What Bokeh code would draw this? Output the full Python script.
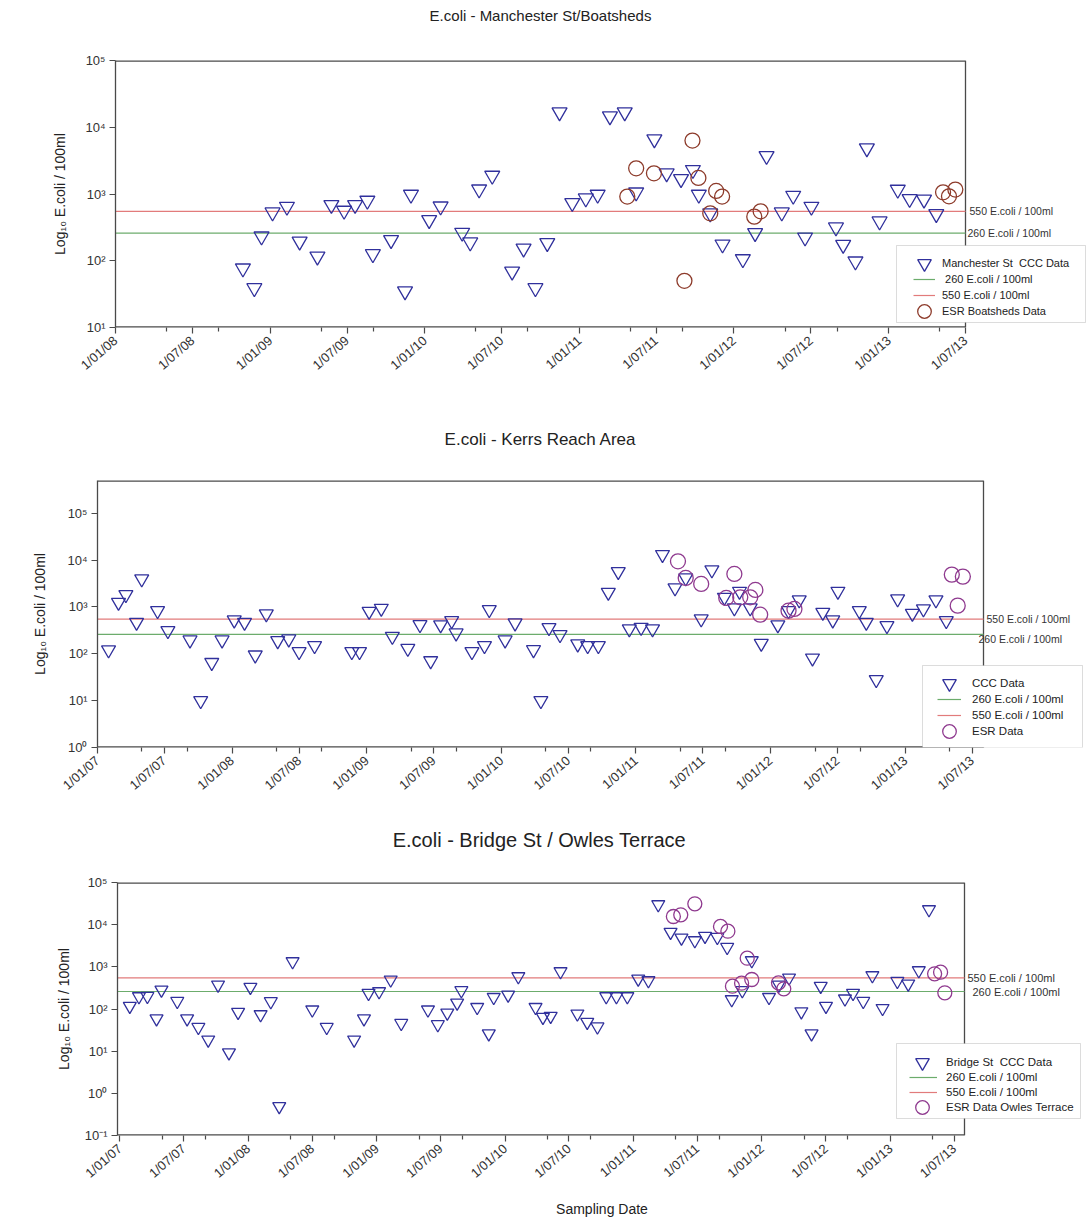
import pandas as pd
from bokeh.plotting import figure
from bokeh.layouts import column
from bokeh.models import FixedTicker, Label, Legend, LegendItem, Range1d, BoxAnnotation, Title
from bokeh.embed import file_html
from bokeh.resources import INLINE

# ---------------- data ----------------
p1_ccc_dates = ["2008-10-28", "2008-11-24", "2008-12-11", "2009-01-06", "2009-02-09", "2009-03-11",
                "2009-04-22", "2009-05-25", "2009-06-24", "2009-07-20", "2009-08-18", "2009-08-31",
                "2009-10-13", "2009-11-15", "2009-11-29", "2010-01-11", "2010-02-07", "2010-03-30",
                "2010-04-18", "2010-05-09", "2010-06-09", "2010-07-26", "2010-08-22", "2010-09-19",
                "2010-10-17", "2010-11-15", "2010-12-15", "2011-01-16", "2011-02-13", "2011-03-14",
                "2011-04-18", "2011-05-15", "2011-06-27", "2011-07-26", "2011-08-29", "2011-09-26",
                "2011-10-10", "2011-11-06", "2011-12-05", "2012-01-22", "2012-02-20", "2012-03-18",
                "2012-04-23", "2012-05-20", "2012-06-17", "2012-07-02", "2012-08-29", "2012-09-15",
                "2012-10-14", "2012-11-10", "2012-12-10", "2013-01-22", "2013-02-19", "2013-03-25",
                "2013-04-23"]
p1_ccc_vals = [77, 39, 232, 532, 647, 195, 116, 687, 564, 687, 797, 126, 205, 35, 980, 409, 654, 264,
               189, 1175, 1888, 69, 153, 39, 185, 16780, 736, 862, 980, 14620, 16780, 1060, 6610, 2043,
               1684, 2298, 980, 514, 176, 106, 261, 3724, 532, 946, 224, 647, 317, 174, 98, 4842, 390,
               1164, 845, 828, 503]
p1_esr_dates = ["2011-04-24", "2011-05-15", "2011-06-26", "2011-09-25", "2011-10-09", "2011-09-06",
                "2011-11-06", "2011-11-20", "2011-12-04", "2012-02-18", "2012-03-04", "2013-05-09",
                "2013-05-23", "2013-06-07"]
p1_esr_vals = [914, 2427, 2043, 6318, 1743, 50, 514, 1112, 914, 458, 550, 1060, 924, 1164]

p2_ccc_dates = ["2007-01-31", "2007-02-27", "2007-03-19", "2007-04-17", "2007-05-01", "2007-06-13",
                "2007-07-11", "2007-09-09", "2007-10-08", "2007-11-07", "2007-12-05", "2008-01-07",
                "2008-02-04", "2008-03-04", "2008-04-03", "2008-05-04", "2008-06-03", "2008-07-01",
                "2008-08-12", "2008-11-21", "2008-12-12", "2009-01-07", "2009-02-09", "2009-03-11",
                "2009-04-22", "2009-05-25", "2009-06-23", "2009-07-20", "2009-08-19", "2009-08-31",
                "2009-10-13", "2009-11-16", "2009-11-29", "2010-01-11", "2010-02-07", "2010-03-29",
                "2010-04-18", "2010-05-10", "2010-06-09", "2010-07-27", "2010-08-23", "2010-09-21",
                "2010-10-18", "2010-11-14", "2010-12-14", "2011-01-15", "2011-02-15", "2011-03-14",
                "2011-04-17", "2011-05-16", "2011-06-27", "2011-07-26", "2011-08-29", "2011-09-25",
                "2011-10-09", "2011-11-07", "2011-12-07", "2012-01-21", "2012-02-19", "2012-03-19",
                "2012-04-24", "2012-05-22", "2012-06-18", "2012-07-02", "2012-08-29", "2012-09-17",
                "2012-10-14", "2012-11-12", "2012-12-11", "2013-01-20", "2013-02-19", "2013-03-25",
                "2013-04-22"]
p2_ccc_vals = [121, 1254, 1832, 469, 3965, 834, 312, 197, 10, 65, 197, 527, 469, 94, 709, 190, 207, 111,
               149, 111, 111, 805, 934, 235, 130, 419, 71, 415, 510, 278, 111, 149, 875, 197, 455, 122,
               10, 361, 256, 162, 149, 149, 2050, 5680, 339, 366, 339, 13110, 2547, 4165, 554, 6175,
               1604, 952, 2154, 952, 167, 415, 834, 1411, 81, 767, 527, 2154, 834, 469, 28, 398, 1483,
               730, 906, 1411, 510]
p2_esr_dates = ["2011-04-25", "2011-05-16", "2011-06-27", "2011-09-25", "2011-09-03", "2011-10-11",
                "2011-11-07", "2011-11-21", "2011-12-04", "2012-02-19", "2012-03-06", "2013-05-07",
                "2013-06-06", "2013-05-23"]
p2_esr_vals = [9420, 4165, 3100, 5070, 1557, 1604, 1604, 2308, 685, 834, 906, 4900, 4440, 1067]

p3_ccc_dates = ["2007-01-29", "2007-02-24", "2007-03-20", "2007-04-15", "2007-04-29", "2007-06-13",
                "2007-07-11", "2007-08-12", "2007-09-09", "2007-10-07", "2007-11-07", "2007-12-03",
                "2008-01-07", "2008-02-05", "2008-03-05", "2008-03-29", "2008-05-06", "2008-07-01",
                "2008-08-11", "2008-10-28", "2008-11-25", "2008-12-08", "2009-01-07", "2009-02-09",
                "2009-03-11", "2009-05-26", "2009-06-23", "2009-07-20", "2009-08-17", "2009-08-29",
                "2009-10-13", "2009-11-15", "2009-11-29", "2010-01-09", "2010-02-07", "2010-03-28",
                "2010-04-18", "2010-05-10", "2010-06-07", "2010-07-25", "2010-08-22", "2010-09-20",
                "2010-10-15", "2010-11-13", "2010-12-14", "2011-01-14", "2011-02-12", "2011-03-12",
                "2011-04-16", "2011-05-17", "2011-06-24", "2011-07-23", "2011-08-27", "2011-09-24",
                "2011-10-07", "2011-11-06", "2011-12-03", "2012-01-21", "2012-02-18", "2012-03-18",
                "2012-04-22", "2012-05-21", "2012-06-16", "2012-07-01", "2012-08-24", "2012-09-16",
                "2012-10-15", "2012-11-10", "2012-12-09", "2013-01-20", "2013-02-20", "2013-03-22",
                "2013-04-20"]
p3_ccc_vals = [117, 198, 201, 59, 285, 153, 59, 37, 18.6, 375, 9.2, 84, 329, 74, 151, 0.49, 1339, 96,
               37, 18.6, 59, 237, 260, 493, 46, 96, 43, 81, 140, 275, 110, 26, 190, 217, 590, 110, 64,
               68, 775, 77, 49, 38, 198, 198, 198, 520, 474, 30090, 6630, 4880, 4210, 5330, 5040, 2920,
               168, 275, 1413, 190, 375, 550, 87, 26, 348, 117, 175, 237, 153, 623, 104, 456, 396, 819,
               22900]
p3_esr_dates = ["2011-04-24", "2011-05-15", "2011-06-24", "2011-09-05", "2011-09-26", "2011-11-20",
                "2011-10-09", "2011-11-04", "2011-12-03", "2012-02-17", "2012-03-03", "2013-05-06",
                "2013-05-23", "2013-06-04"]
p3_esr_vals = [15630, 17140, 31260, 9060, 7000, 1603, 348, 409, 501, 418, 301, 684, 746, 242]

threshold_low = 260
threshold_high = 550

# ---------------- styling ----------------
FONT = "Liberation Sans"
TRI = "#30309c"
RED = "#e27b7b"
GREEN = "#6cac6c"
BROWN = "#8d3b2b"
PURPLE = "#8f3a8f"
AXC = "#4a4a4a"
TXT = "#222222"
FIG_W = 1088
FRAME_R = 1086

W = {' ': .278, '/': .278, '-': .333, '.': .278, 'E': .667, 'c': .5, 'o': .556, 'l': .222, 'i': .222,
     'm': .833, 'M': .833, 'a': .556, 'n': .556, 'h': .556, 'e': .556, 's': .5, 't': .278, 'r': .333,
     'S': .667, 'B': .667, 'd': .556, 'K': .667, 'R': .722, 'A': .667, 'O': .778, 'w': .722,
     'T': .611, 'g': .556}


def tw(s, size):
    return sum(W.get(ch, 0.556) for ch in s) * size


def ms(s):
    return (pd.Timestamp(s) - pd.Timestamp("1970-01-01")).total_seconds() * 1000.0


SUP = str.maketrans("-0123456789", "⁻⁰¹²³⁴⁵⁶⁷⁸⁹")


def date_ticks(x0, x1):
    majors, minors, labels = [], [], {}
    for yr in range(2006, 2015):
        for m in (1, 7):
            t = ms(f"{yr}-{m:02d}-01")
            if x0 - 1 <= t <= x1 + 1:
                majors.append(t)
                labels[t] = f"1/{m:02d}/{yr % 100:02d}"
        for m in (5, 9):
            t = ms(f"{yr}-{m:02d}-01")
            if x0 <= t <= x1:
                minors.append(t)
    return majors, minors, labels


def legend_row(p, renderer, label, x, width, stand, row_y, fl, fb, size):
    gh = 34
    p.add_layout(Legend(items=[LegendItem(label=label, renderers=[renderer])],
                        location=(int(round(x - fl)), int(round(fb - row_y - gh / 2))),
                        glyph_width=int(width), glyph_height=gh, label_height=gh, spacing=0,
                        padding=0, margin=0, label_standoff=int(stand), label_width=20,
                        label_text_font=FONT, label_text_font_size=f"{size}px",
                        label_text_color=TXT, border_line_color=None, background_fill_alpha=0))


def panel(cfg):
    fl, fr, ft, fb, top, h = cfg["frame"]
    fh = fb - ft
    x0, x1 = ms(cfg["xr"][0]), ms(cfg["xr"][1])
    # the frame runs on to the right so that the legend and the side notes are not clipped
    x_end = x0 + (x1 - x0) * (FRAME_R - fl) / (fr - fl)
    ylo, yhi = cfg["yr"]
    p = figure(width=FIG_W, height=h, x_axis_type="datetime", y_axis_type="log",
               x_range=Range1d(x0, x_end), y_range=Range1d(ylo, yhi), title=None,
               output_backend="svg", toolbar_location=None, frame_align=False,
               min_border_left=fl, min_border_right=FIG_W - FRAME_R,
               min_border_top=ft - top, min_border_bottom=h - (ft - top) - fh)
    p.background_fill_color = "white"
    p.border_fill_color = "white"
    p.grid.visible = False
    p.outline_line_color = None

    # title: an empty spacer next to the frame, then the title text
    tsize, spacer, ty = cfg["title"]
    p.add_layout(Title(text=" ", text_font_size="1px", standoff=spacer), "above")
    offset = (540 - fl) - tw(cfg["title_text"], tsize) / 2
    p.add_layout(Title(text=cfg["title_text"], align="left", offset=offset, standoff=0,
                       text_font=FONT, text_font_size=f"{tsize}px", text_font_style="normal",
                       text_color=TXT), "above")

    majors, minors, labels = date_ticks(x0, x1)
    xa = p.xaxis[0]
    xa.ticker = FixedTicker(ticks=majors, minor_ticks=minors)
    xa.major_label_overrides = labels
    xa.major_label_orientation = 0.72
    ya = p.yaxis[0]
    e0, e1 = cfg["yexp"]
    ya.ticker = FixedTicker(ticks=[10.0 ** k for k in range(e0, e1 + 1)], minor_ticks=[])
    ya.major_label_overrides = {10.0 ** k: "10" + str(k).translate(SUP) for k in range(e0, e1 + 1)}
    for ax in (xa, ya):
        ax.axis_line_color = AXC
        ax.axis_line_width = 1.3
        ax.major_tick_line_color = AXC
        ax.minor_tick_line_color = AXC
        ax.major_tick_line_width = 1.2
        ax.minor_tick_line_width = 1.2
        ax.major_tick_in = 0
        ax.major_tick_out = 6
        ax.minor_tick_in = 0
        ax.minor_tick_out = 4
        ax.major_label_text_font = FONT
        ax.major_label_text_color = "#333333"
        ax.major_label_text_font_size = "13px"
    xa.axis_line_color = None
    ya.major_label_standoff = 4
    ya.axis_label = "Log₁₀ E.coli / 100ml"
    ya.axis_label_text_font = FONT
    ya.axis_label_text_font_size = "14px"
    ya.axis_label_text_font_style = "normal"
    ya.axis_label_text_color = TXT
    ya.axis_label_standoff = cfg["ylab_standoff"]
    if cfg.get("xlabel"):
        xa.axis_label = "Sampling Date"
        xa.axis_label_text_font = FONT
        xa.axis_label_text_font_size = "14px"
        xa.axis_label_text_font_style = "normal"
        xa.axis_label_text_color = TXT
        xa.axis_label_standoff = cfg["xlabel"]

    xs = [pd.Timestamp(cfg["xr"][0]), pd.Timestamp(cfg["xr"][1])]
    # plot box: bottom, top and right edges of the visible area
    p.line(xs, [ylo, ylo], line_color=AXC, line_width=2.6)
    p.line(xs, [yhi, yhi], line_color=AXC, line_width=2.6)
    p.line([xs[1], xs[1]], [ylo, yhi], line_color=AXC, line_width=1.3)

    rg = p.line(xs, [threshold_low] * 2, line_color=GREEN, line_width=1.2)
    rr = p.line(xs, [threshold_high] * 2, line_color=RED, line_width=1.2)
    rt = p.scatter(pd.to_datetime(cfg["ccc"][0]), cfg["ccc"][1], marker="inverted_triangle",
                   size=cfg["tsize"], fill_color=None, line_color=TRI, line_width=1.3)
    rc = p.scatter(pd.to_datetime(cfg["esr"][0]), cfg["esr"][1], marker="circle",
                   size=cfg["csize"], fill_color=None, line_color=cfg["ccol"], line_width=1.3)

    # legend box
    bl, br, bt, bb = cfg["box"]
    p.add_layout(BoxAnnotation(left=bl - fl, right=br - fl, top=fb - bt, bottom=fb - bb,
                               left_units="screen", right_units="screen", top_units="screen",
                               bottom_units="screen", fill_color="white", fill_alpha=1.0,
                               line_color="#8a8a8a", line_width=1, level="annotation"))
    mc, l0, l1, lx, rows, lfs = cfg["legend"]
    labs = cfg["labels"]
    legend_row(p, rt, labs[0], mc - 17, 34, lx - (mc + 17), rows[0], fl, fb, lfs)
    legend_row(p, rg, labs[1], l0, l1 - l0, lx - l1, rows[1], fl, fb, lfs)
    legend_row(p, rr, labs[2], l0, l1 - l0, lx - l1, rows[2], fl, fb, lfs)
    legend_row(p, rc, labs[3], mc - 17, 34, lx - (mc + 17), rows[3], fl, fb, lfs)

    # notes at the right end of the guideline levels
    for (xp, val, yoff, size) in cfg["rlabels"]:
        p.add_layout(Label(x=xp - fl, y=val, x_units="screen", y_units="data",
                           text=f"{val} E.coli / 100ml", text_font=FONT, text_font_size=f"{size}px",
                           text_color="#333333", text_align="left", text_baseline="middle",
                           y_offset=yoff))
    return p


p1 = panel(dict(frame=(115, 965, 60, 327, 0, 425), xr=("2008-01-01", "2013-07-01"), yr=(10, 1e5),
                yexp=(1, 5), ccc=(p1_ccc_dates, p1_ccc_vals), esr=(p1_esr_dates, p1_esr_vals),
                tsize=15, csize=15, ccol=BROWN, box=(896, 1085, 245, 322),
                legend=(924, 913, 935, 942, (263, 279, 295, 311), 11),
                labels=["Manchester St  CCC Data", " 260 E.coli / 100ml", "550 E.coli / 100ml",
                        "ESR Boatsheds Data"],
                title=(15, 34, 18), title_text="E.coli - Manchester St/Boatsheds", ylab_standoff=14,
                rlabels=[(969, threshold_high, 0, 10.5), (967, threshold_low, 0, 10.5)]))
p2 = panel(dict(frame=(97, 983, 480, 747, 425, 400), xr=("2007-01-01", "2013-08-01"), yr=(1, 5e5),
                yexp=(0, 5), ccc=(p2_ccc_dates, p2_ccc_vals), esr=(p2_esr_dates, p2_esr_vals),
                tsize=14, csize=15, ccol=PURPLE, box=(922, 1082, 665, 747),
                legend=(949, 937, 961, 972, (683, 699, 715, 731), 11.5),
                labels=["CCC Data", "260 E.coli / 100ml", "550 E.coli / 100ml", "ESR Data"],
                title=(17, 29, 17), title_text="E.coli - Kerrs Reach Area", ylab_standoff=16,
                rlabels=[(986, threshold_high, 0, 10.5), (978, threshold_low, -5, 10.5)]))
p3 = panel(dict(frame=(117, 964, 882, 1135, 825, 395), xr=("2006-12-25", "2013-07-30"), yr=(0.1, 1e5),
                yexp=(-1, 5), ccc=(p3_ccc_dates, p3_ccc_vals), esr=(p3_esr_dates, p3_esr_vals),
                tsize=13, csize=14, ccol=PURPLE, box=(896, 1080, 1043, 1118),
                legend=(922, 909, 937, 946, (1062, 1077, 1092, 1107), 11.5),
                labels=["Bridge St  CCC Data", "260 E.coli / 100ml", "550 E.coli / 100ml",
                        "ESR Data Owles Terrace"],
                title=(20, 29, 18), title_text="E.coli - Bridge St / Owles Terrace", ylab_standoff=10,
                rlabels=[(967, threshold_high, 0, 11), (972, threshold_low, 0, 11)],
                xlabel=12))

layout = column(p1, p2, p3, spacing=0)
open("out.html", "w").write(file_html(layout, INLINE))
